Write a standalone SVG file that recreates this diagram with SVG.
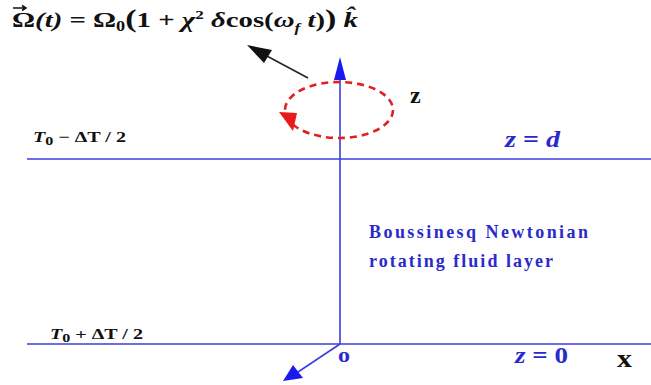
<svg xmlns="http://www.w3.org/2000/svg" width="651" height="385" viewBox="0 0 651 385">
<defs>
<style>
.ln{stroke:#3c3ce0;stroke-width:1.6;fill:none}
.blue{fill:#2a2acc;font-family:"Liberation Serif","Times New Roman",serif;font-weight:bold}
.blk{fill:#111;font-family:"Liberation Serif","Times New Roman",serif;font-weight:bold}
.it{font-style:italic}
</style>
</defs>
<rect width="651" height="385" fill="#fff"/>
<g id="formula">
<text class="blk" x="12" y="27" font-size="22" textLength="346" lengthAdjust="spacingAndGlyphs">Ω<tspan class="it">(t)</tspan> = Ω<tspan font-size="14" dy="4">0</tspan><tspan dy="-4" font-size="26">(</tspan>1 + <tspan class="it">χ</tspan><tspan font-size="13" dy="-8">2</tspan><tspan dy="8"> </tspan><tspan class="it">δ</tspan>cos(<tspan class="it">ω</tspan><tspan class="it" font-size="13" dy="5">f</tspan><tspan class="it" dy="-5"> t</tspan>)<tspan font-size="26">)</tspan> <tspan class="it">k̂</tspan></text>
<path d="M13,8 L25,8 M22,5.5 L26,8 L22,10.5" stroke="#111" stroke-width="1.5" fill="none"/>
</g>
<g id="connectors">
<line class="ln" x1="27" y1="159" x2="651" y2="159"/>
<line class="ln" x1="27" y1="344" x2="651" y2="344"/>
<line class="ln" x1="340" y1="344" x2="340" y2="80"/>
<path d="M340,57 L334,80 L346,80 z" fill="#1a1aee"/>
<line class="ln" x1="340" y1="344" x2="298" y2="372"/>
<path d="M283,381 L293,365 L303,378 z" fill="#1a1aee"/>
<ellipse cx="339" cy="110" rx="54" ry="28" fill="none" stroke="#e02020" stroke-width="2.6" stroke-dasharray="7,5"/>
<path d="M279,112 L297,113 L293,131 z" fill="#e81a1a"/>
<line x1="308" y1="78" x2="265" y2="55" stroke="#222" stroke-width="1.5"/>
<path d="M247,45 L272,50 L264,63 z" fill="#111"/>
</g>
<g id="labels">
<text class="blk" x="410" y="103" font-size="24">z</text>
<text class="blk" x="33" y="142" font-size="15" textLength="93" lengthAdjust="spacingAndGlyphs"><tspan class="it">T</tspan><tspan font-size="12" dy="3">0</tspan><tspan dy="-3"> − ΔT / 2</tspan></text>
<text class="blk" x="50" y="339" font-size="15" textLength="93" lengthAdjust="spacingAndGlyphs"><tspan class="it">T</tspan><tspan font-size="12" dy="3">0</tspan><tspan dy="-3"> + ΔT / 2</tspan></text>
<text class="blue" x="505" y="147" font-size="23" textLength="55" lengthAdjust="spacingAndGlyphs"><tspan class="it">z</tspan> = <tspan class="it">d</tspan></text>
<text class="blue" x="515" y="363" font-size="24" textLength="53" lengthAdjust="spacingAndGlyphs"><tspan class="it">z</tspan> = 0</text>
<text class="blue" x="338" y="362" font-size="20" textLength="12" lengthAdjust="spacingAndGlyphs">o</text>
<text class="blk" x="617" y="367" font-size="26" textLength="15" lengthAdjust="spacingAndGlyphs">x</text>
<text class="blue" x="369" y="238" font-size="18" textLength="219" lengthAdjust="spacing">Boussinesq Newtonian</text>
<text class="blue" x="369" y="267" font-size="18" textLength="184" lengthAdjust="spacing">rotating fluid layer</text>
</g>
</svg>
